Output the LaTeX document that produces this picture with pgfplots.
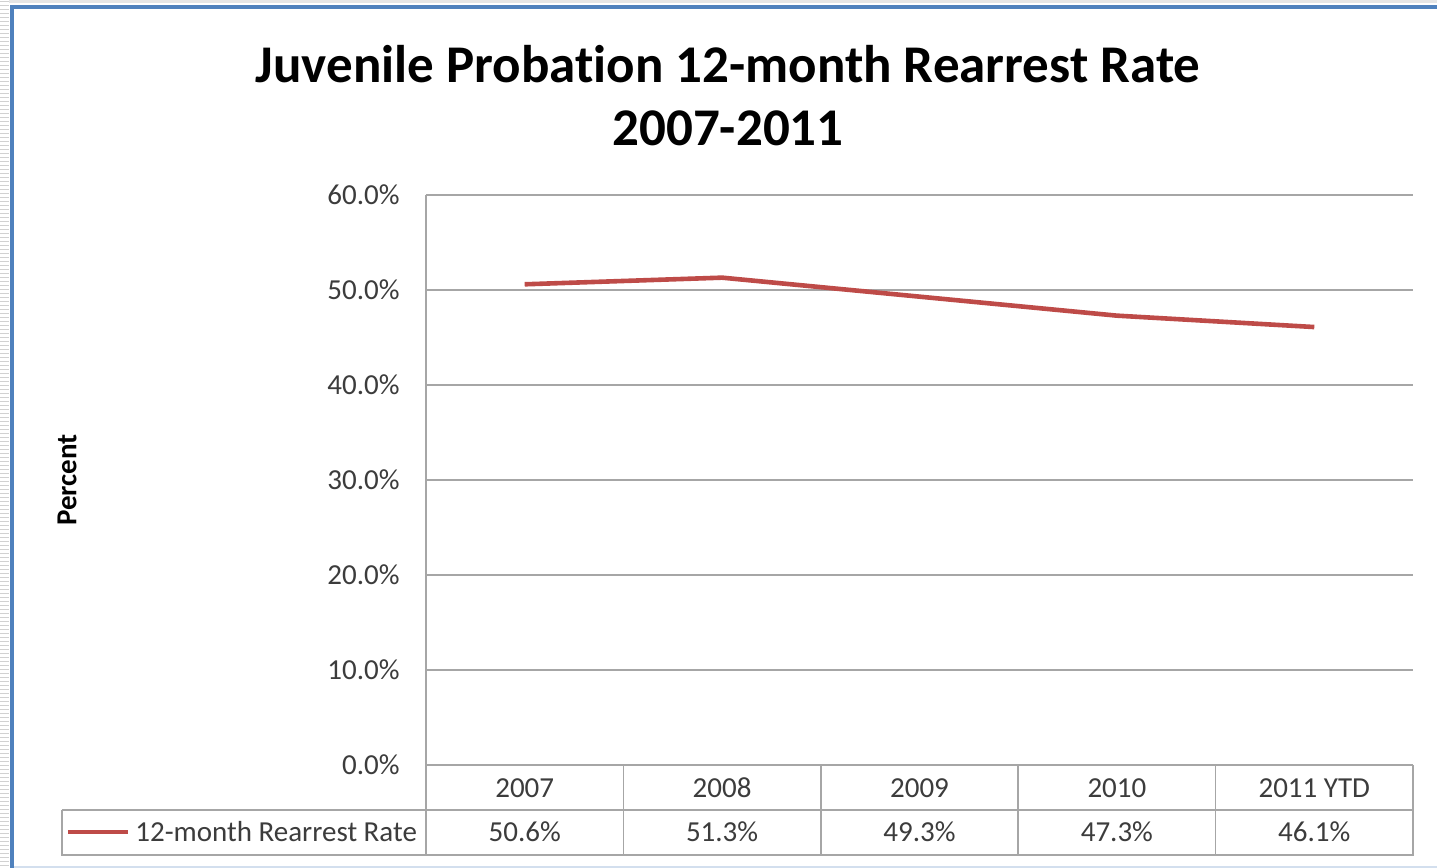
\documentclass[border=0pt]{standalone}
\usepackage{fontspec}
\setmainfont{Carlito}[Ligatures=NoCommon]
\usepackage{pgfplots}
\pgfplotsset{compat=1.18}
\definecolor{serred}{HTML}{BE4B48}
\definecolor{gridgray}{HTML}{A6A6A6}
\definecolor{txt}{HTML}{3C3C3C}
\definecolor{frameblue}{HTML}{4F81BD}

\begin{document}
\begin{tikzpicture}[x=1pt,y=1pt]
\useasboundingbox (0,0) rectangle (718.5,434);
\fill[white] (0,0) rectangle (718.5,434);
% screenshot edges
\foreach \k in {0,...,216} \draw[black!18, line width=0.5pt] (0,2*\k+1) -- (4.5,2*\k+1);
\fill[black!10] (4.5,432.5) rectangle (718.5,434);
\fill[frameblue] (4.75,429.25) rectangle (718.5,431.25);
\fill[frameblue] (4.75,0) rectangle (7,431.25);
\fill[frameblue!25] (7,0) rectangle (718.5,0.8);

% title
\node[anchor=base, font=\fontsize{26.5}{30}\selectfont\bfseries] at (364,392.5) {Juvenile Probation 12-month Rearrest Rate};
\node[anchor=base, font=\fontsize{26.5}{30}\selectfont\bfseries] at (364,361) {2007-2011};
\node[rotate=90, font=\fontsize{14.5}{17}\selectfont\bfseries] at (33.5,194) {Percent};

\begin{axis}[
  at={(213pt,51.5pt)}, anchor=south west,
  width=493.5pt, height=285pt, scale only axis,
  xmin=-0.5, xmax=4.5, ymin=0, ymax=60,
  axis lines=left, axis line style={-, gridgray, line width=0.8pt},
  ytick={0,10,...,60}, ymajorgrids, grid style={gridgray, line width=0.8pt},
  major tick length=0pt,
  /pgf/number format/assume math mode=true,
  yticklabel={\pgfmathprintnumber[fixed,fixed zerofill,precision=1]{\tick}\%},
  yticklabel style={anchor=east, inner sep=0pt, xshift=-13pt, font=\fontsize{14.5}{17}\selectfont, text=txt},
  xtick={0,...,4}, xticklabels={2007,2008,2009,2010,2011 YTD},
  xticklabel style={anchor=center, inner sep=0pt, yshift=-11.5pt, font=\fontsize{14.5}{17}\selectfont, text=txt},
  clip=false,
]
\addplot[serred, line width=2.3pt, mark=none] coordinates {(0,50.6) (1,51.3) (2,49.3) (3,47.3) (4,46.1)};
% data table values row
\addplot[draw=none, mark=none, nodes near coords, point meta=explicit symbolic,
  every node near coord/.style={anchor=center, inner sep=0pt, font=\fontsize{14.5}{17}\selectfont, text=txt}]
  coordinates {(0,-7.05) [50.6\%] (1,-7.05) [51.3\%] (2,-7.05) [49.3\%] (3,-7.05) [47.3\%] (4,-7.05) [46.1\%]};
% data table grid
\draw[gridgray, line width=0.8pt] (axis cs:-0.5,0) -- (axis cs:-0.5,-9.47) -- (axis cs:4.5,-9.47) -- (axis cs:4.5,0);
\draw[gridgray, line width=0.8pt] (axis cs:0.5,0) -- (axis cs:0.5,-9.47);
\draw[gridgray, line width=0.8pt] (axis cs:1.5,0) -- (axis cs:1.5,-9.47);
\draw[gridgray, line width=0.8pt] (axis cs:2.5,0) -- (axis cs:2.5,-9.47);
\draw[gridgray, line width=0.8pt] (axis cs:3.5,0) -- (axis cs:3.5,-9.47);
\draw[gridgray, line width=0.8pt] (axis cs:-2.344,-4.74) -- (axis cs:4.5,-4.74);
\draw[gridgray, line width=0.8pt] (axis cs:-2.344,-4.74) -- (axis cs:-2.344,-9.47) -- (axis cs:-0.5,-9.47);
% legend key
\draw[serred, line width=2.3pt] (axis cs:-2.314,-7.05) -- (axis cs:-2.01,-7.05);
\node[anchor=west, inner sep=0pt, font=\fontsize{14.5}{17}\selectfont, text=txt] at (axis cs:-1.974,-7.05) {12-month Rearrest Rate};
\end{axis}
\end{tikzpicture}
\end{document}
